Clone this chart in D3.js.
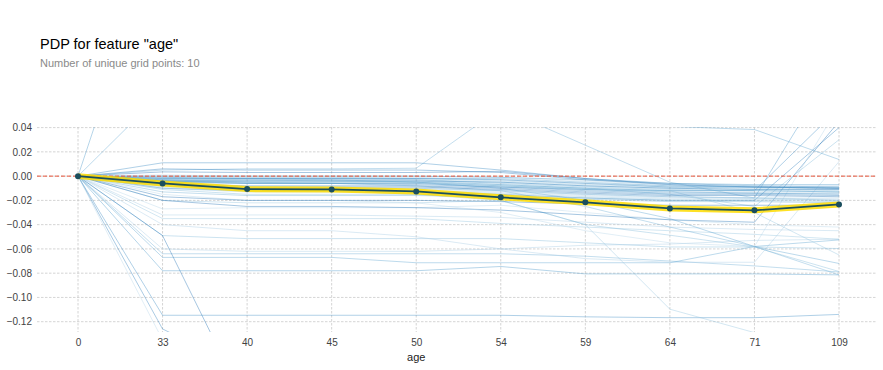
<!DOCTYPE html>
<html><head><meta charset="utf-8">
<script src="https://cdn.jsdelivr.net/npm/d3@7/dist/d3.min.js"></script>
<style>
body{margin:0;background:#fff}
text{font-family:Arial,"Liberation Sans",Helvetica,sans-serif}
</style>
</head><body>
<svg id="chart" width="883" height="370"></svg>
<script>
// ---- data ----
const gridLabels = ["0","33","40","45","50","54","59","64","71","109"];
const pdpValues = [0, -0.006, -0.0107, -0.011, -0.0126, -0.0175, -0.0216, -0.0266, -0.0282, -0.0233];
const yTickValues = [-0.12, -0.10, -0.08, -0.06, -0.04, -0.02, 0.00, 0.02, 0.04];

const iceCluster = [
  [0, 0.011, 0.011, 0.011, 0.011, 0.005, -0.002, -0.006, -0.008, -0.009],
  [0, 0.006, 0.005, 0.005, 0.005, 0.003, -0.003, -0.007, -0.009, -0.010],
  [0, 0.0035, 0.003, 0.003, 0.003, 0.004, -0.002, -0.007, -0.009, -0.010],
  [0, 0.001, 0.000, 0.000, 0.000, -0.001, -0.004, -0.007, -0.008, -0.008],
  [0, 0.000, -0.001, -0.001, -0.001, -0.003, -0.006, -0.008, -0.009, -0.010],
  [0, -0.001, -0.001, -0.001, -0.002, -0.004, -0.007, -0.009, -0.010, -0.011],
  [0, -0.002, -0.002, -0.002, -0.003, -0.005, -0.008, -0.010, -0.011, -0.012],
  [0, -0.003, -0.003, -0.003, -0.003, -0.006, -0.009, -0.011, -0.012, -0.013],
  [0, -0.003, -0.004, -0.004, -0.004, -0.007, -0.010, -0.012, -0.012, -0.013],
  [0, -0.004, -0.005, -0.005, -0.005, -0.008, -0.011, -0.013, -0.014, -0.014],
  [0, -0.005, -0.006, -0.006, -0.006, -0.009, -0.012, -0.014, -0.014, -0.015],
  [0, -0.006, -0.008, -0.008, -0.008, -0.010, -0.013, -0.015, -0.015, -0.016],
  [0, -0.007, -0.009, -0.009, -0.009, -0.011, -0.014, -0.016, -0.016, -0.017],
  [0, -0.008, -0.011, -0.011, -0.011, -0.012, -0.015, -0.017, -0.018, -0.018],
  [0, -0.009, -0.012, -0.012, -0.012, -0.013, -0.016, -0.018, -0.018, -0.019],
  [0, -0.010, -0.013, -0.013, -0.013, -0.014, -0.017, -0.019, -0.019, -0.020],
  [0, -0.011, -0.015, -0.015, -0.015, -0.016, -0.018, -0.020, -0.020, -0.021],
  [0, -0.013, -0.016, -0.016, -0.016, -0.017, -0.019, -0.021, -0.021, -0.022],
  [0, -0.002, -0.002, -0.002, -0.002, -0.002, -0.005, -0.008, -0.009, -0.009],
  [0, 0.000, 0.000, 0.000, 0.000, -0.001, -0.003, -0.006, -0.007, -0.007],
  [0, -0.001, -0.002, -0.002, -0.002, -0.003, -0.006, -0.009, -0.009, -0.010],
  [0, -0.004, -0.004, -0.004, -0.004, -0.005, -0.008, -0.010, -0.011, -0.011],
  [0, -0.017, -0.020, -0.020, -0.020, -0.021, -0.023, -0.024, -0.024, -0.024]
];
const iceUpper = [
  [0, 0.005, 0.006, 0.006, 0.0065, 0.056, 0.0255, -0.005, -0.018, -0.020],
  [0, 0.069, 0.085, 0.090, 0.088, 0.070, 0.050, 0.041, 0.0384, 0.0137],
  [0, 0.210, 0.200, 0.190, 0.190, 0.200, 0.180, 0.160, 0.120, 0.090]
];
const iceLower = [
  [0, -0.027, -0.026, -0.026, -0.026, -0.024, -0.030, -0.036, -0.040, -0.042],
  [0, -0.032, -0.032, -0.032, -0.033, -0.034, -0.038, -0.042, -0.044, -0.045],
  [0, -0.035, -0.035, -0.035, -0.035, -0.039, -0.042, -0.045, -0.048, -0.052],
  [0, -0.049, -0.0515, -0.0515, -0.0515, -0.0515, -0.055, -0.0584, -0.0584, -0.0597],
  [0, -0.064, -0.064, -0.064, -0.064, -0.064, -0.066, -0.070, -0.074, -0.079],
  [0, -0.067, -0.067, -0.067, -0.0714, -0.0714, -0.0714, -0.0714, -0.058, -0.072],
  [0, -0.078, -0.078, -0.078, -0.078, -0.0745, -0.0806, -0.0806, -0.0806, -0.0814],
  [0, -0.1147, -0.1147, -0.1147, -0.1147, -0.1147, -0.116, -0.1167, -0.1167, -0.114],
  [0, -0.126, -0.160, -0.170, -0.170, -0.170, -0.170, -0.170, -0.170, -0.170],
  [0, -0.049, -0.190, -0.200, -0.200, -0.200, -0.200, -0.200, -0.200, -0.200],
  [0, -0.135, -0.150, -0.150, -0.150, -0.150, -0.150, -0.150, -0.150, -0.150],
  [0, -0.060, -0.062, -0.062, -0.062, -0.060, -0.057, -0.056, -0.053, -0.052]
];
const iceRight = [
  [0, -0.020, -0.022, -0.022, -0.022, -0.020, -0.040, -0.1097, -0.129, -0.150],
  [0, -0.005, -0.010, -0.012, -0.015, -0.020, -0.040, -0.0487, -0.0584, -0.0786],
  [0, -0.003, -0.005, -0.006, -0.008, -0.012, -0.025, -0.042, -0.058, -0.0814],
  [0, -0.002, -0.002, -0.003, -0.005, -0.010, -0.020, -0.035, -0.058, -0.0526],
  [0, -0.008, -0.010, -0.010, -0.010, -0.012, -0.015, -0.017, -0.018, 0.096],
  [0, -0.004, -0.006, -0.006, -0.007, -0.009, -0.011, -0.012, -0.012, 0.056],
  [0, -0.010, -0.012, -0.012, -0.013, -0.015, -0.018, -0.020, -0.020, 0.040],
  [0, -0.020, -0.025, -0.025, -0.026, -0.028, -0.032, -0.036, -0.038, 0.045],
  [0, -0.015, -0.020, -0.020, -0.022, -0.030, -0.045, -0.055, -0.058, 0.058],
  [0, -0.040, -0.045, -0.045, -0.050, -0.060, -0.068, -0.071, -0.071, 0.012],
  [0, -0.004, -0.006, -0.006, -0.006, -0.008, -0.010, -0.012, -0.030, -0.065],
  [0, -0.002, -0.003, -0.004, -0.005, -0.007, -0.010, -0.015, -0.025, 0.030]
];

// ---- drawing ----
const svg = d3.select("#chart");
const plotLeft = 37, plotRight = 877, plotTop = 127, plotBottom = 332;

const x = d3.scalePoint().domain(gridLabels).range([78, 839]);
const y = d3.scaleLinear().domain([-0.1285, 0.0405]).range([plotBottom, plotTop]);

// title
svg.append("text").attr("x", 40).attr("y", 48.5)
  .attr("font-size", 14.5).attr("fill", "#000").text('PDP for feature "age"');
svg.append("text").attr("x", 40).attr("y", 66.5)
  .attr("font-size", 11).attr("fill", "#8a8a8a").text("Number of unique grid points: 10");

// grid
const grid = svg.append("g");
grid.selectAll("line.h").data(yTickValues).join("line").attr("class", "h")
  .attr("x1", plotLeft).attr("x2", plotRight)
  .attr("y1", d => y(d)).attr("y2", d => y(d))
  .attr("stroke", "#c9c9c9").attr("stroke-width", 0.8).attr("stroke-dasharray", "2.5,1.5");
grid.selectAll("line.v").data(gridLabels).join("line").attr("class", "v")
  .attr("x1", d => x(d)).attr("x2", d => x(d))
  .attr("y1", plotTop).attr("y2", plotBottom)
  .attr("stroke", "#c9c9c9").attr("stroke-width", 0.8).attr("stroke-dasharray", "2.5,1.5");

// axes
const yAxis = d3.axisLeft(y).tickValues(yTickValues).tickFormat(d3.format(".2f")).tickSize(0).tickPadding(5);
const gy = svg.append("g").attr("transform", `translate(${plotLeft},0)`).call(yAxis);
gy.select(".domain").remove();
gy.selectAll("text").attr("font-size", 10).attr("fill", "#424242")
  .style("font-family", 'Arial,"Liberation Sans",sans-serif');

const xAxis = d3.axisBottom(x).tickSize(0).tickPadding(7);
const gx = svg.append("g").attr("transform", `translate(0,${plotBottom})`).call(xAxis);
gx.select(".domain").remove();
gx.selectAll("text").attr("font-size", 10).attr("fill", "#424242")
  .style("font-family", 'Arial,"Liberation Sans",sans-serif');

svg.append("text").attr("x", x("50")).attr("y", 361)
  .attr("text-anchor", "middle").attr("font-size", 11).attr("fill", "#222").text("age");

// clip
svg.append("clipPath").attr("id", "clip").append("rect")
  .attr("x", plotLeft).attr("y", plotTop).attr("width", plotRight - plotLeft).attr("height", plotBottom - plotTop);
const plot = svg.append("g").attr("clip-path", "url(#clip)");

const line = d3.line().x((d, i) => x(gridLabels[i])).y(d => y(d));

const allIce = [].concat(iceLower, iceRight, iceUpper, iceCluster);
const blues = d3.range(10).map(i => d3.interpolateBlues(0.3 + i * 0.05));
plot.selectAll("path.ice").data(allIce).join("path")
  .attr("class", "ice")
  .attr("d", line).attr("fill", "none")
  .attr("stroke", (d, i) => blues[i % 10])
  .attr("stroke-width", 0.9).attr("stroke-opacity", 0.45);

// zero line
plot.append("line").attr("x1", plotLeft).attr("x2", plotRight)
  .attr("y1", y(0)).attr("y2", y(0))
  .attr("stroke", "#E75438").attr("stroke-width", 1).attr("stroke-dasharray", "4,2");

// pdp highlight
plot.append("path").datum(pdpValues).attr("d", line).attr("fill", "none")
  .attr("stroke", "#FEDC00").attr("stroke-width", 6).attr("stroke-opacity", 0.85)
  .attr("stroke-linejoin", "round");
plot.append("path").datum(pdpValues).attr("d", line).attr("fill", "none")
  .attr("stroke", "#1A4E5D").attr("stroke-width", 1.8);
plot.selectAll("circle.pt").data(pdpValues).join("circle").attr("class", "pt")
  .attr("cx", (d, i) => x(gridLabels[i])).attr("cy", d => y(d)).attr("r", 3)
  .attr("fill", "#1A4E5D");
</script>
</body></html>
